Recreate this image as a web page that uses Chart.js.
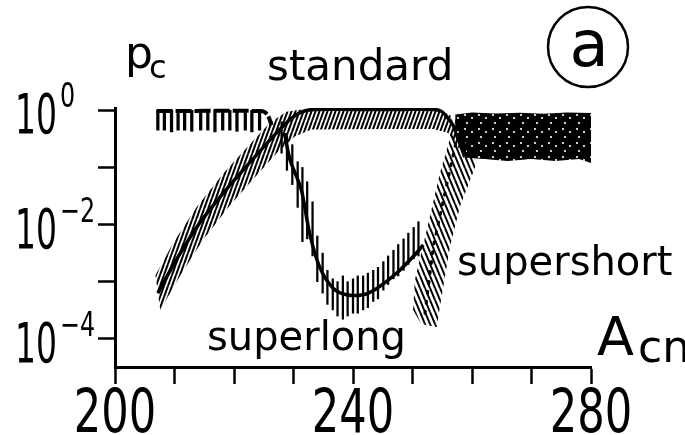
<!DOCTYPE html>
<html>
<head>
<meta charset="utf-8">
<script src="https://cdn.jsdelivr.net/npm/chart.js@4"></script>
<style>
  html, body { margin: 0; padding: 0; background: #fff; }
  canvas { display: block; }
</style>
</head>
<body>
<canvas id="pcChart" width="685" height="435"></canvas>
<script>
// axis ticks
const xTickValues = [200, 210, 220, 230, 240, 250, 260, 270, 280];
const xTickLabels = ["200", "", "", "", "240", "", "", "", "280"];
const yTickValues = [1e-4, 1e-3, 1e-2, 1e-1, 1];
const yTickBase = ["10", "", "10", "", "10"];
const yTickExp = ["\u22124", "", "\u22122", "", "0"];

// standard curve (line)
const stdX = [207.2, 210.3, 214.2, 218.7, 222.6, 226.6, 229.4, 231.2, 233, 240, 248, 253.5, 254.8, 256, 257.4];
const stdY = [0.00063, 0.0024, 0.0105, 0.041, 0.12, 0.35, 0.69, 0.92, 1.03, 1.04, 1.04, 1.04, 0.97, 0.72, 0.45];

// standard spread (hatched band)
const stdUpX = [206.8, 209.8, 213.7, 218.2, 222.1, 226.0, 228.8, 231.0, 233.5, 254.5, 256.5];
const stdUpY = [0.0013, 0.0048, 0.02, 0.078, 0.22, 0.6, 0.95, 1.02, 1.04, 1.04, 0.8];
const stdLoX = [207.6, 210.8, 214.8, 219.2, 223.2, 227.2, 230.2, 233.0, 245.0, 253.5, 256.0, 258.0];
const stdLoY = [0.00032, 0.0012, 0.0054, 0.021, 0.062, 0.18, 0.35, 0.46, 0.47, 0.47, 0.4, 0.2];

// band of fluctuating standard values above A = 257
const noiseUpX = [257.2, 260, 264, 268, 272, 276, 280];
const noiseUpY = [0.85, 0.92, 0.88, 0.91, 0.87, 0.92, 0.9];
const noiseLoX = [257.2, 258.5, 262, 266, 270, 274, 278, 280];
const noiseLoY = [0.35, 0.15, 0.14, 0.13, 0.14, 0.13, 0.14, 0.12];

// superlong curve
const slX = [228.5, 229.4, 231.3, 232.7, 234.4, 236.7, 238.9, 241.7, 244.0, 247.3, 250.7, 251.8];
const slY = [0.4, 0.138, 0.041, 0.0071, 0.0018, 0.00076, 0.00059, 0.00059, 0.00076, 0.0014, 0.0032, 0.0044];

// superlong spread (vertical bars)
const slBarX = [228.0, 228.9, 229.8, 230.7, 231.5, 232.3, 233.2, 234.0, 234.9, 235.7, 236.6, 237.4, 238.3, 239.1,
  240.0, 240.8, 241.7, 242.5, 243.4, 244.2, 245.1, 245.9, 246.8, 247.6, 248.5, 249.3, 250.2, 251.0];
const slBarHi = [0.631, 0.355, 0.251, 0.126, 0.1, 0.0562, 0.0251, 0.00631, 0.00316, 0.00158, 0.00112, 0.001, 0.00126, 0.001,
  0.00112, 0.00126, 0.00126, 0.00141, 0.00158, 0.00178, 0.00224, 0.00282, 0.00355, 0.00447, 0.00562, 0.00708, 0.00891, 0.0112];
const slBarLo = [0.178, 0.0891, 0.0501, 0.02, 0.00501, 0.00562, 0.00282, 0.001, 0.00063, 0.0004, 0.00032, 0.00025, 0.00022, 0.00025,
  0.00028, 0.00028, 0.00032, 0.00035, 0.00045, 0.0005, 0.00071, 0.00089, 0.00112, 0.00126, 0.00158, 0.002, 0.00251, 0.00282];

// superlong at high p (comb)
const combX = [207.2, 208.3, 209.5, 210.6, 211.7, 212.9, 214.4, 215.6, 216.8, 218.1, 219.3, 220.5, 221.9, 223.0, 224.3];
const combLo = [0.45, 0.45, 0.42, 0.45, 0.45, 0.43, 0.45, 0.45, 0.42, 0.45, 0.45, 0.43, 0.45, 0.42, 0.45];
const combHi = [1.0, 1.0, 1.0, 1.0, 1.0, 1.0, 1.0, 1.0, 1.0, 1.0, 1.0, 1.0, 1.0, 1.0, 1.0];
const combTopX = [207.0, 224.5, 225.6, 226.3];
const combTopY = [0.97, 0.97, 0.85, 0.55];

// supershort band and centre line
const ssLeftX = [250.1, 250.4, 252.4, 254.6, 257.4];
const ssLeftY = [0.00032, 0.00107, 0.0081, 0.079, 0.79];
const ssRightX = [251.5, 254.1, 254.6, 256.3, 258.0, 260.8];
const ssRightY = [0.00018, 0.00016, 0.00036, 0.0041, 0.021, 0.12];
const ssMidX = [252.1, 253.5, 255.2, 257.4];
const ssMidY = [0.00028, 0.0041, 0.027, 0.31];

const pts = (xs, ys) => xs.map((x, i) => ({ x: x, y: ys[i] }));
const bars = (xs, lo, hi) => xs.map((x, i) => ({ x: x, y: [lo[i], hi[i]] }));
const band = (ax, ay, bx, by) => pts(ax, ay).concat(pts(bx, by).reverse());

// hatch patterns
function hatch(w, h, dir, lw) {
  const c = document.createElement("canvas");
  c.width = w; c.height = h;
  const g = c.getContext("2d");
  g.strokeStyle = "#000";
  g.lineWidth = lw;
  for (const dx of [-w, 0, w]) {
    g.beginPath();
    if (dir > 0) { g.moveTo(dx, h); g.lineTo(dx + w, 0); }
    else { g.moveTo(dx, 0); g.lineTo(dx + w, h); }
    g.stroke();
  }
  return g.createPattern(c, "repeat");
}
function speckle() {
  const c = document.createElement("canvas");
  c.width = 14; c.height = 14;
  const g = c.getContext("2d");
  g.fillStyle = "#000";
  g.fillRect(0, 0, 14, 14);
  g.fillStyle = "#fff";
  [[3, 3], [10, 6], [5, 11]].forEach(p => {
    g.beginPath(); g.arc(p[0], p[1], 1.1, 0, Math.PI * 2); g.fill();
  });
  return g.createPattern(c, "repeat");
}

const notes = [
  { text: "p", x: 125, y: 68, size: 44 },
  { text: "c", x: 149, y: 78, size: 32 },
  { text: "standard", x: 267, y: 80, size: 42 },
  { text: "superlong", x: 207, y: 350, size: 40 },
  { text: "supershort", x: 457, y: 275, size: 40 },
  { text: "A", x: 597, y: 355, size: 54 },
  { text: "cn", x: 638, y: 362, size: 44 }
];
const FONT = "'DejaVu Sans', sans-serif";

// condensed text, like the narrow digits of the original figure
function squeezed(ctx, text, x, y, size, sx, align) {
  ctx.save();
  ctx.translate(x, y);
  ctx.scale(sx, 1);
  ctx.font = size + "px " + FONT;
  ctx.textAlign = align;
  ctx.fillText(text, 0, 0);
  ctx.restore();
}

const labelsPlugin = {
  id: "labels",
  afterDraw(chart) {
    const ctx = chart.ctx;
    const xs = chart.scales.x, ys = chart.scales.y;
    ctx.save();
    ctx.fillStyle = "#000";
    ctx.textBaseline = "alphabetic";

    // tick labels
    xTickValues.forEach((v, i) => {
      if (xTickLabels[i]) squeezed(ctx, xTickLabels[i], xs.getPixelForValue(v), 432, 60, 0.72, "center");
    });
    yTickValues.forEach((v, i) => {
      if (!yTickBase[i]) return;
      const py = ys.getPixelForValue(v);
      squeezed(ctx, yTickBase[i], 57, py + 23, 55, 0.6, "right");
      squeezed(ctx, yTickExp[i], 60, py - 3, 34, 0.7, "left");
    });

    // annotations
    ctx.textAlign = "left";
    notes.forEach(n => {
      ctx.font = n.size + "px " + FONT;
      ctx.fillText(n.text, n.x, n.y);
    });

    // panel mark
    ctx.lineWidth = 2.5;
    ctx.strokeStyle = "#000";
    ctx.beginPath();
    ctx.arc(588, 47, 40, 0, Math.PI * 2);
    ctx.stroke();
    ctx.textAlign = "center";
    ctx.font = "64px " + FONT;
    ctx.fillText("a", 589, 66);
    ctx.restore();
  }
};

new Chart(document.getElementById("pcChart"), {
  type: "line",
  data: {
    datasets: [
      { data: pts(stdX, stdY), borderColor: "#000", borderWidth: 3.5, fill: false, tension: 0.3 },
      { data: pts(slX, slY), borderColor: "#000", borderWidth: 3.5, fill: false, tension: 0.3 },
      { data: pts(ssMidX, ssMidY), borderColor: "#000", borderWidth: 3, borderDash: [2, 8], borderCapStyle: "round", fill: false },
      { data: pts(combTopX, combTopY), borderColor: "#000", borderWidth: 4, borderDash: [16, 3], fill: false, tension: 0.3 },
      { type: "bar", data: bars(slBarX, slBarLo, slBarHi), backgroundColor: "#000", barThickness: 1.6, grouped: false },
      { type: "bar", data: bars(combX, combLo, combHi), backgroundColor: "#000", barThickness: 2.6, grouped: false },
      { data: band(ssLeftX, ssLeftY, ssRightX, ssRightY), borderWidth: 0, borderColor: "transparent",
        backgroundColor: hatch(5, 12, -1, 2), fill: "shape" },
      { data: band(noiseUpX, noiseUpY, noiseLoX, noiseLoY), borderWidth: 0, borderColor: "transparent",
        backgroundColor: speckle(), fill: "shape" },
      { data: band(stdUpX, stdUpY, stdLoX, stdLoY), borderWidth: 0, borderColor: "transparent",
        backgroundColor: hatch(4, 11, 1, 2), fill: "shape" }
    ]
  },
  options: {
    responsive: false,
    animation: false,
    devicePixelRatio: 1,
    layout: { padding: { top: 108, right: 94, left: 0, bottom: 0 } },
    elements: { point: { radius: 0 } },
    plugins: { legend: { display: false }, tooltip: { enabled: false } },
    scales: {
      x: {
        type: "linear",
        min: 200,
        max: 280,
        offset: false,
        afterBuildTicks: s => { s.ticks = xTickValues.map(v => ({ value: v })); },
        afterFit: s => { s.height = 68; },
        ticks: { display: false },
        grid: { offset: false, drawOnChartArea: false, drawTicks: true, tickLength: 17, tickWidth: 2.5, tickColor: "#000" },
        border: { display: true, color: "#000", width: 3 }
      },
      y: {
        type: "logarithmic",
        min: 3.2e-5,
        max: 1.1,
        afterBuildTicks: s => { s.ticks = yTickValues.map(v => ({ value: v })); },
        afterFit: s => { s.width = 115; },
        ticks: { display: false },
        grid: { drawOnChartArea: false, drawTicks: true, tickLength: 17, tickWidth: 2.5, tickColor: "#000" },
        border: { display: true, color: "#000", width: 3 }
      }
    }
  },
  plugins: [labelsPlugin]
});
</script>
</body>
</html>
